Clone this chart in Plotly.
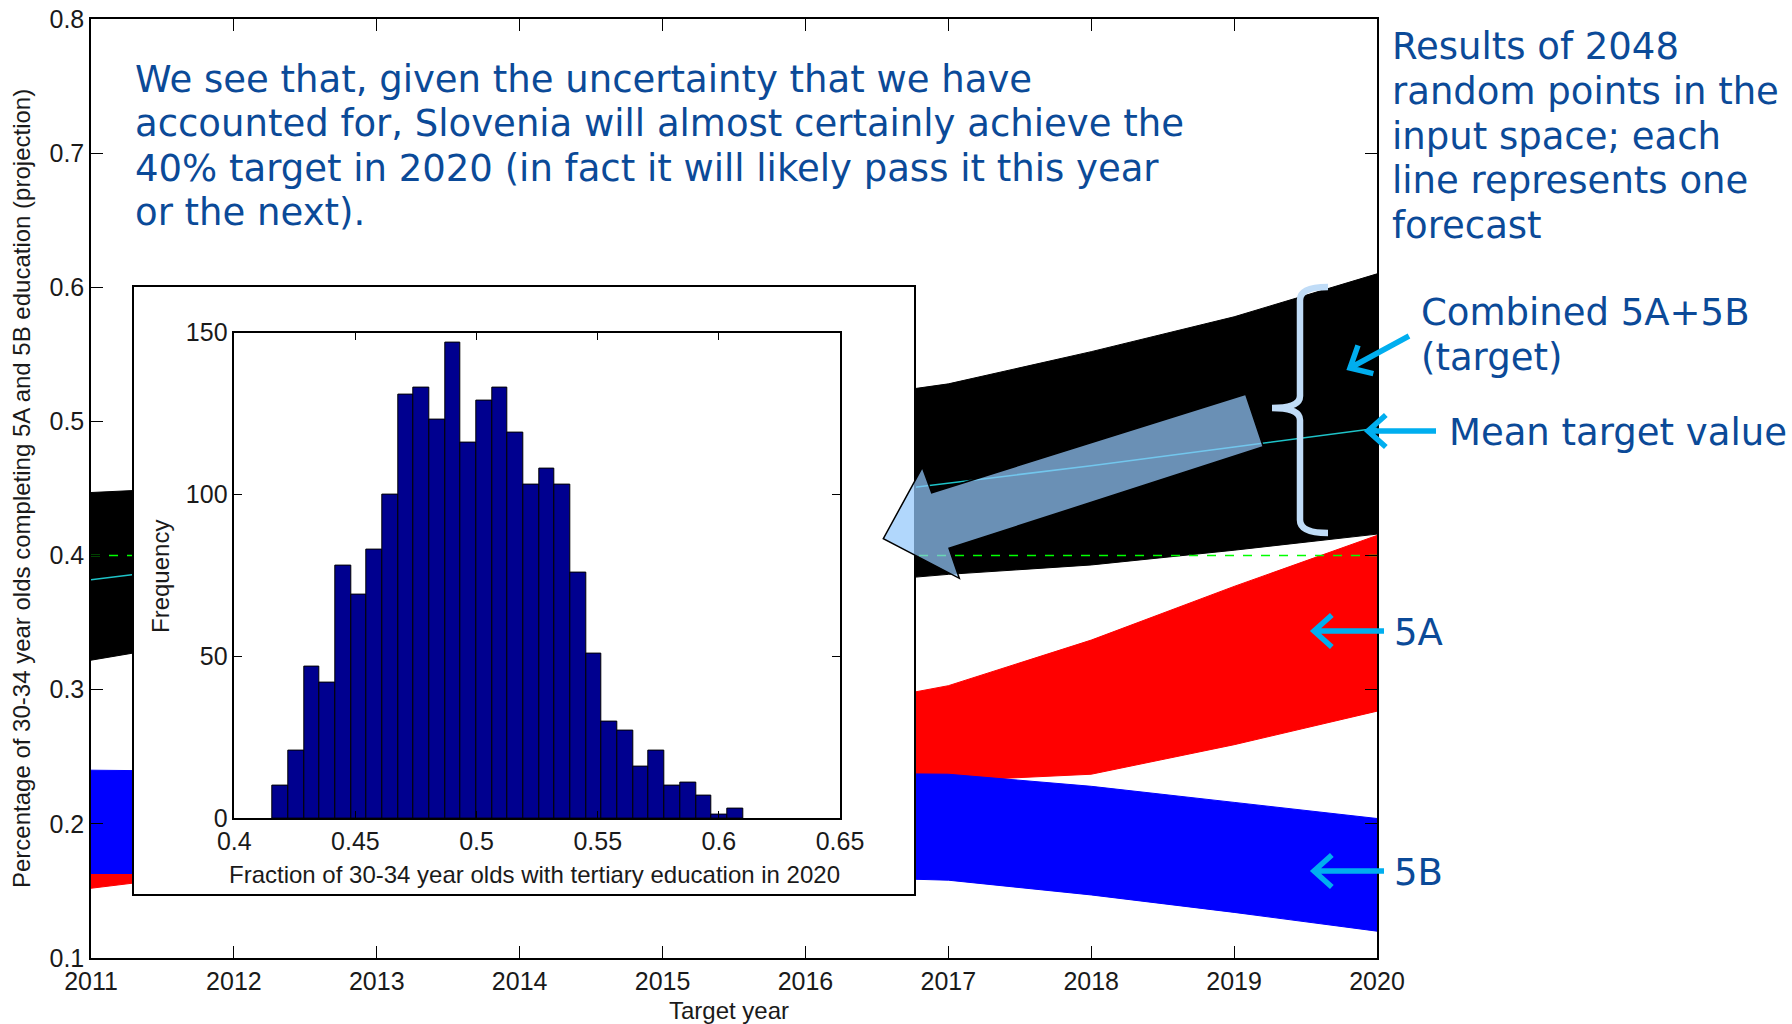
import math
import plotly.graph_objects as go

# ---------------- data ----------------
years = [2011, 2012, 2013, 2014, 2015, 2016, 2017, 2018, 2019, 2020]
combined_upper = [0.447, 0.452, 0.465, 0.479, 0.495, 0.513, 0.528, 0.552, 0.578, 0.610]
combined_lower = [0.322, 0.340, 0.350, 0.360, 0.368, 0.377, 0.386, 0.393, 0.404, 0.416]
mean_target = [0.382, 0.395, 0.407, 0.418, 0.429, 0.441, 0.454, 0.467, 0.481, 0.495]
a5_upper = [0.215, 0.225, 0.237, 0.250, 0.265, 0.283, 0.303, 0.337, 0.377, 0.415]
a5_lower = [0.152, 0.165, 0.178, 0.190, 0.205, 0.220, 0.232, 0.237, 0.259, 0.284]
b5_upper = [0.240, 0.239, 0.239, 0.238, 0.238, 0.238, 0.237, 0.228, 0.216, 0.204]
b5_lower = [0.163, 0.163, 0.163, 0.163, 0.162, 0.161, 0.158, 0.147, 0.134, 0.120]
target_level = 0.40

year_ticks = [2011, 2012, 2013, 2014, 2015, 2016, 2017, 2018, 2019, 2020]
y_ticks = [0.1, 0.2, 0.3, 0.4, 0.5, 0.6, 0.7, 0.8]
y_ticklabels = ["0.1", "0.2", "0.3", "0.4", "0.5", "0.6", "0.7", "0.8"]

hist_first_edge = 0.4158
hist_bin_width = 0.00647
hist_counts = [10, 21, 47, 42, 78, 69, 83, 100, 131, 133, 123, 147, 116, 129, 133,
               119, 103, 108, 103, 76, 51, 30, 27, 16, 21, 10, 11, 7, 1, 3]
hist_xticks = [0.4, 0.45, 0.5, 0.55, 0.6, 0.65]
hist_xticklabels = ["0.4", "0.45", "0.5", "0.55", "0.6", "0.65"]
hist_yticks = [0, 50, 100, 150]

main_text = ["We see that, given the uncertainty that we have",
             "accounted for, Slovenia will almost certainly achieve the",
             "40% target in 2020 (in fact it will likely pass it this year",
             "or the next)."]
side_text = ["Results of 2048", "random points in the", "input space; each",
             "line represents one", "forecast"]

# ---------------- geometry helpers ----------------
W, H = 1792, 1024
L, R, T, B = 91, 415, 19, 66
PW, PH = W - L - R, H - T - B


def px(x):
    return (x - L) / PW


def py(y):
    return (H - B - y) / PH


def pt(x, y):
    return f"{px(x):.5f},{py(y):.5f}"


FAM = "Liberation Sans Narrow, Arial Narrow, Liberation Sans, Arial"
TICKFONT = dict(family=FAM, size=25, color="#1a1a1a")
TITLEFONT = dict(family=FAM, size=24, color="#1a1a1a")
BLUE_TXT = "#0B4A98"
CYAN = "#00AEEF"
BLUEFONT = dict(family="DejaVu Sans", size=37, color=BLUE_TXT)

fig = go.Figure()


def band(lower, upper, color):
    fig.add_trace(go.Scatter(x=years, y=lower, mode="lines", line=dict(color=color, width=1),
                             showlegend=False, hoverinfo="skip"))
    fig.add_trace(go.Scatter(x=years, y=upper, mode="lines", line=dict(color=color, width=1),
                             fill="tonexty", fillcolor=color, showlegend=False, hoverinfo="skip"))


band(combined_lower, combined_upper, "#000000")
band(a5_lower, a5_upper, "#FF0000")
band(b5_lower, b5_upper, "#0000FF")

fig.add_trace(go.Scatter(x=[years[0], years[-1]], y=[target_level, target_level], mode="lines",
                         line=dict(color="#00FF00", width=1.5, dash="dash"), showlegend=False))
fig.add_trace(go.Scatter(x=years, y=mean_target, mode="lines",
                         line=dict(color="#1EC3C8", width=1.5), showlegend=False))

# inset white box (own subplot so it sits above the bands)
fig.add_trace(go.Scatter(x=[0, 1, 1, 0, 0], y=[0, 0, 1, 1, 0], mode="lines", fill="toself",
                         fillcolor="white", line=dict(width=0, color="white"),
                         xaxis="x2", yaxis="y2", showlegend=False, hoverinfo="skip"))

# histogram
centers = [hist_first_edge + hist_bin_width * (i + 0.5) for i in range(len(hist_counts))]
fig.add_trace(go.Bar(x=centers, y=hist_counts, width=hist_bin_width,
                     marker=dict(color="#00008F", line=dict(color="black", width=1)),
                     xaxis="x3", yaxis="y3", showlegend=False))

axis_common = dict(showline=True, linecolor="black", linewidth=1.5, mirror="ticks", ticks="inside",
                   tickcolor="black", tickwidth=1.2, showgrid=False, zeroline=False,
                   tickfont=TICKFONT, automargin=False)

fig.update_layout(
    width=W, height=H, template="none",
    paper_bgcolor="white", plot_bgcolor="white",
    margin=dict(l=L, r=R, t=T, b=B),
    showlegend=False,
    xaxis=dict(domain=[0, 1], range=[2011, 2020], tickvals=year_ticks,
               ticktext=[str(v) for v in year_ticks], ticklen=12, **axis_common),
    yaxis=dict(domain=[0, 1], range=[0.1, 0.8], tickvals=y_ticks, ticktext=y_ticklabels,
               ticklen=12, **axis_common),
    xaxis2=dict(domain=[px(134), px(914.3)], range=[0, 1], anchor="y2", showline=True, mirror=True,
                linecolor="black", linewidth=1.5, ticks="", showticklabels=False,
                showgrid=False, zeroline=False, fixedrange=True),
    yaxis2=dict(domain=[py(893.7), py(286.9)], range=[0, 1], anchor="x2", showline=True, mirror=True,
                linecolor="black", linewidth=1.5, ticks="", showticklabels=False,
                showgrid=False, zeroline=False, fixedrange=True),
    xaxis3=dict(domain=[px(234.3), px(840)], range=[0.4, 0.65], anchor="y3",
                tickvals=hist_xticks, ticktext=hist_xticklabels, ticklen=8, **axis_common),
    yaxis3=dict(domain=[py(818.3), py(332.6)], range=[0, 150], anchor="x3",
                tickvals=hist_yticks, ticktext=[str(v) for v in hist_yticks], ticklen=8, **axis_common),
    bargap=0,
)

ann = []
ann.append(dict(x=px(21), y=py(489), xref="paper", yref="paper", textangle=-90, showarrow=False,
                text="Percentage of 30-34 year olds completing 5A and 5B education (projection)",
                font=TITLEFONT, xanchor="center", yanchor="middle"))
ann.append(dict(x=px(729), y=py(1010), xref="paper", yref="paper", showarrow=False,
                text="Target year", font=TITLEFONT, xanchor="center", yanchor="middle"))
ann.append(dict(x=px(160), y=py(577), xref="paper", yref="paper", textangle=-90, showarrow=False,
                text="Frequency", font=TITLEFONT, xanchor="center", yanchor="middle"))
ann.append(dict(x=px(534), y=py(874), xref="paper", yref="paper", showarrow=False,
                text="Fraction of 30-34 year olds with tertiary education in 2020",
                font=TITLEFONT, xanchor="center", yanchor="middle"))

for i, line in enumerate(main_text):
    ann.append(dict(x=px(133), y=py(79 + 44.6 * i), xref="paper", yref="paper", showarrow=False,
                    text=line, font=BLUEFONT, xanchor="left", yanchor="middle"))
for i, line in enumerate(side_text):
    ann.append(dict(x=px(1390), y=py(47 + 44.6 * i), xref="paper", yref="paper", showarrow=False,
                    text=line, font=BLUEFONT, xanchor="left", yanchor="middle"))
for txt, x, y in [("Combined 5A+5B", 1419, 312), ("(target)", 1419, 357),
                  ("Mean target value", 1447, 432), ("5A", 1392, 632), ("5B", 1392, 872)]:
    ann.append(dict(x=px(x), y=py(y), xref="paper", yref="paper", showarrow=False,
                    text=txt, font=BLUEFONT, xanchor="left", yanchor="middle"))
fig.update_layout(annotations=ann)

shapes = []
poly = [(1245.7, 394.3), (1263.3, 446.7), (949, 548.3), (959.3, 578.3), (883.3, 538.7),
        (922.3, 467.3), (931.7, 492.7)]
path = "M " + " L ".join(pt(x, y) for x, y in poly) + " Z"
shapes.append(dict(type="path", xref="paper", yref="paper", path=path, layer="above",
                   fillcolor="rgba(147,199,251,0.72)", line=dict(color="black", width=1.5)))

bx = 1300
brace = (f"M {pt(1328, 287)} Q {pt(bx, 287)} {pt(bx, 300)} L {pt(bx, 396)} "
         f"Q {pt(bx, 408)} {pt(1272, 408)} Q {pt(bx, 408)} {pt(bx, 420)} "
         f"L {pt(bx, 520)} Q {pt(bx, 533)} {pt(1328, 533)}")
shapes.append(dict(type="path", xref="paper", yref="paper", path=brace, layer="above",
                   line=dict(color="#C0DCF7", width=6.5)))


def pointer(tail, tip, barb=24, ang=42):
    dx, dy = tail[0] - tip[0], tail[1] - tip[1]
    n = math.hypot(dx, dy)
    ux, uy = dx / n, dy / n
    pts = []
    for s in (1, -1):
        a = math.radians(ang * s)
        rx = ux * math.cos(a) - uy * math.sin(a)
        ry = ux * math.sin(a) + uy * math.cos(a)
        pts.append((tip[0] + barb * rx, tip[1] + barb * ry))
    p = (f"M {pt(*tail)} L {pt(*tip)} M {pt(*pts[0])} L {pt(*tip)} L {pt(*pts[1])}")
    return dict(type="path", xref="paper", yref="paper", path=p, layer="above",
                line=dict(color=CYAN, width=5.5))


shapes.append(pointer((1409, 336), (1350, 368)))
shapes.append(pointer((1436, 431), (1368, 431)))
shapes.append(pointer((1384, 631), (1314, 631)))
shapes.append(pointer((1384, 871), (1314, 871)))
fig.update_layout(shapes=shapes)

fig.write_html("out.html")
